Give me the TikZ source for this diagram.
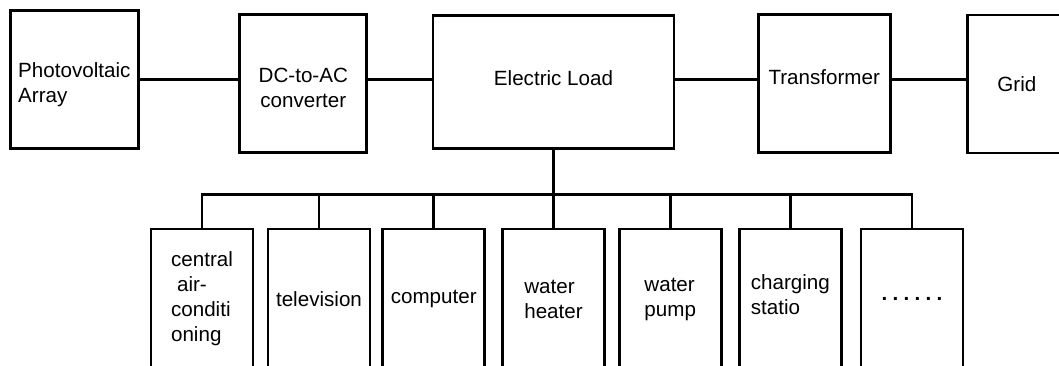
\documentclass[tikz,border=0pt]{standalone}
\usepackage{fontspec}
\setmainfont{Liberation Sans}
\usetikzlibrary{positioning}

\begin{document}
\begin{tikzpicture}[
            x=1pt, y=-1pt,
            block/.style={rectangle, draw=black, line width=2.8pt, minimum height=138pt,
                          align=center, font=\fontsize{20.6}{25}\selectfont},
            device/.style={rectangle, draw=black, line width=2.8pt, minimum width=102pt,
                           minimum height=140pt, align=left, font=\fontsize{20.6}{25}\selectfont},
            link/.style={line width=2.6pt}
        ]
        \useasboundingbox (0,0) rectangle (1059,365);
        \clip (0,0) rectangle (1059,365);

        \node[block, minimum width=128pt, align=left, text height=50pt, text depth=4.3pt]
            (pv) at (74.3,79.5) {Photovoltaic\\Array};
        \node[block, minimum width=127pt, text height=49pt, text depth=0pt]
            (dc) at (303.3,83.3) {DC-to-AC\\converter};
        \node[block, minimum width=241pt, minimum height=133pt, text depth=8pt]
            (load) at (553.5,81.7) {Electric Load};
        \node[block, minimum width=132pt, text depth=14pt] (tr) at (824.2,83.8) {Transformer};
        \node[block, anchor=west, minimum width=130pt, text width=70pt, inner xsep=30pt,
              align=left] (grid) at (966,84) {Grid};

        \node[device] (ac) at (202,299) {central\\\hspace*{6pt}air-\\conditi\\oning};
        \node[device] (tv) at (319,299) {television};
        \node[device] (pc) at (433.7,299) {computer};
        \node[device] (heater) at (553.5,299) {water\\heater};
        \node[device] (pump) at (670.2,299) {water\\pump};
        \node[device, text depth=8pt] (charge) at (790.3,299) {charging\\statio};
        \node[device, align=center] (more) at (912,299)
            {\textbf{.\hspace{5.3pt}.\hspace{5.3pt}.\hspace{5.3pt}.\hspace{5.3pt}.\hspace{5.3pt}.}};

        \draw[link] (pv.east) -- (pv.east -| dc.west);
        \draw[link] (dc.east |- pv.east) -- (pv.east -| load.west);
        \draw[link] (load.east |- pv.east) -- (pv.east -| tr.west);
        \draw[link] (tr.east |- pv.east) -- (pv.east -| grid.west);

        \draw[link] (load.south) -- ++(0,45) -| (ac.north);
        \draw[link] (load.south) -- ++(0,45) -| (tv.north);
        \draw[link] (load.south) -- ++(0,45) -| (pc.north);
        \draw[link] (load.south) -- (heater.north);
        \draw[link] (load.south) -- ++(0,45) -| (pump.north);
        \draw[link] (load.south) -- ++(0,45) -| (charge.north);
        \draw[link] (load.south) -- ++(0,45) -| (more.north);
\end{tikzpicture}
\end{document}
